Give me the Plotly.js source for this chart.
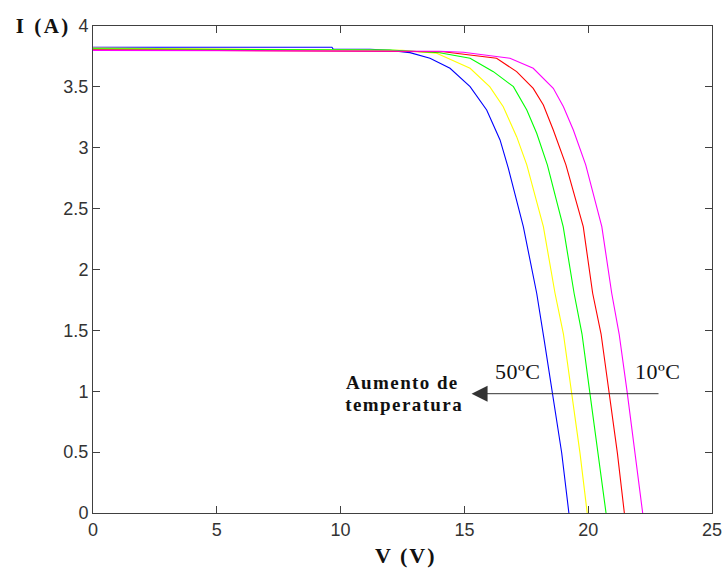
<!DOCTYPE html>
<html>
<head>
<meta charset="utf-8">
<script src="https://cdn.plot.ly/plotly-3.0.1.min.js"></script>
<style>html,body{margin:0;padding:0;background:#fff;}#chart{width:723px;height:571px;}</style>
</head>
<body>
<div id="chart"></div>
<script>
// Series (V in volts, I in amps)
const seriesNames = ["50ºC", "40ºC", "30ºC", "20ºC", "10ºC"];
const seriesColors = ["#0000ff", "#ffff00", "#00ff00", "#ff0000", "#ff00ff"];

const vBlue = [0, 9.65, 9.7, 11.19, 12.0, 12.8, 13.61, 14.42, 15.23, 15.9, 16.44, 16.77, 17.38, 17.92, 18.21, 18.55, 18.93, 19.22];
const iBlue = [3.825, 3.825, 3.81, 3.809, 3.80, 3.781, 3.735, 3.653, 3.502, 3.31, 3.064, 2.834, 2.352, 1.805, 1.437, 0.983, 0.493, 0];

const vYellow = [0, 12.5, 13.88, 15.23, 16.03, 16.57, 17.11, 17.52, 18.19, 18.66, 19.0, 19.33, 19.67, 19.96];
const iYellow = [3.818, 3.80, 3.776, 3.653, 3.50, 3.337, 3.091, 2.86, 2.352, 1.805, 1.47, 0.983, 0.49, 0];

const vGreen = [0, 12.0, 14.0, 15.23, 16.17, 16.98, 17.52, 17.92, 18.35, 18.99, 19.43, 19.75, 20.07, 20.41, 20.72];
const iGreen = [3.812, 3.803, 3.78, 3.735, 3.625, 3.502, 3.31, 3.119, 2.86, 2.352, 1.805, 1.47, 0.983, 0.49, 0];

const vRed = [0, 13.0, 14.15, 16.3, 17.11, 17.78, 18.19, 18.59, 19.1, 19.8, 20.18, 20.52, 20.85, 21.18, 21.46];
const iRed = [3.805, 3.795, 3.789, 3.735, 3.625, 3.488, 3.351, 3.146, 2.86, 2.352, 1.805, 1.47, 0.983, 0.49, 0];

const vMagenta = [0, 14.0, 14.96, 16.84, 17.78, 18.59, 19.0, 19.4, 19.9, 20.55, 20.95, 21.25, 21.58, 21.89, 22.2];
const iMagenta = [3.80, 3.792, 3.784, 3.735, 3.653, 3.488, 3.337, 3.146, 2.86, 2.352, 1.805, 1.47, 0.983, 0.49, 0];

const xTicks = [0, 5, 10, 15, 20, 25];
const yTicks = [0, 0.5, 1, 1.5, 2, 2.5, 3, 3.5, 4];
const yTickText = ["0", "0.5", "1", "1.5", "2", "2.5", "3", "3.5", "4"];

const allV = [vBlue, vYellow, vGreen, vRed, vMagenta];
const allI = [iBlue, iYellow, iGreen, iRed, iMagenta];

const traces = allV.map((v, k) => ({
  x: v, y: allI[k], type: "scatter", mode: "lines", name: seriesNames[k],
  line: {color: seriesColors[k], width: 1.1}, hoverinfo: "skip"
}));

const serif = "Liberation Serif, Times New Roman, serif";
const axisCol = "#404040";
const tickFont = {family: "Liberation Sans, Arial, sans-serif", size: 18, color: "#333333"};

const layout = {
  width: 723, height: 571,
  margin: {l: 93, r: 11, t: 26, b: 58},
  paper_bgcolor: "#ffffff", plot_bgcolor: "#ffffff",
  showlegend: false,
  xaxis: {
    range: [0, 25], tickvals: xTicks, ticktext: xTicks.map(String),
    ticks: "inside", ticklen: 7, tickcolor: axisCol, tickwidth: 1,
    showline: true, linecolor: axisCol, linewidth: 1, mirror: "ticks",
    showgrid: false, zeroline: false, tickfont: tickFont
  },
  yaxis: {
    range: [0, 4], tickvals: yTicks, ticktext: yTickText,
    ticks: "inside", ticklen: 7, tickcolor: axisCol, tickwidth: 1,
    showline: true, linecolor: axisCol, linewidth: 1, mirror: "ticks",
    showgrid: false, zeroline: false, tickfont: tickFont
  },
  annotations: [
    {xref: "paper", yref: "paper", x: -0.118, y: 1.0, xanchor: "left", yanchor: "middle",
     text: "<b>I (A)</b>", showarrow: false, font: {family: serif, size: 21, color: "#111"}},
    {xref: "paper", yref: "paper", x: 0.505, y: -0.088, xanchor: "center", yanchor: "middle",
     text: "<b>V (V)</b>", showarrow: false, font: {family: serif, size: 22, color: "#111"}},
    {xref: "x", yref: "y", x: 15.29, y: 0.98, axref: "x", ayref: "y", ax: 22.9, ay: 0.98,
     text: "", showarrow: true, arrowhead: 2, arrowsize: 3.2, arrowwidth: 1, arrowcolor: "#333333", standoff: 0},
    {xref: "x", yref: "y", x: 16.2, y: 1.16, xanchor: "left", yanchor: "middle",
     text: "50ºC", showarrow: false, font: {family: serif, size: 22, color: "#111"}},
    {xref: "x", yref: "y", x: 21.85, y: 1.16, xanchor: "left", yanchor: "middle",
     text: "10ºC", showarrow: false, font: {family: serif, size: 22, color: "#111"}},
    {xref: "x", yref: "y", x: 10.42, y: 1.075, xanchor: "left", yanchor: "middle",
     text: "<b>Aumento de</b>", showarrow: false, font: {family: serif, size: 19, color: "#111"}},
    {xref: "x", yref: "y", x: 10.42, y: 0.89, xanchor: "left", yanchor: "middle",
     text: "<b>temperatura</b>", showarrow: false, font: {family: serif, size: 19, color: "#111"}}
  ]
};

// extra letter spacing per annotation (matches the wide lettering of the reference)
const letterSpacing = ["2.5px", "2px", "0px", "0.5px", "0.5px", "1.4px", "1.4px"];

Plotly.newPlot("chart", traces, layout, {staticPlot: true, displayModeBar: false}).then(gd => {
  gd.querySelectorAll("g.annotation").forEach(g => {
    const idx = +g.getAttribute("data-index");
    const t = g.querySelector("text.annotation-text");
    if (t && letterSpacing[idx]) t.style.letterSpacing = letterSpacing[idx];
  });
});
</script>
</body>
</html>
